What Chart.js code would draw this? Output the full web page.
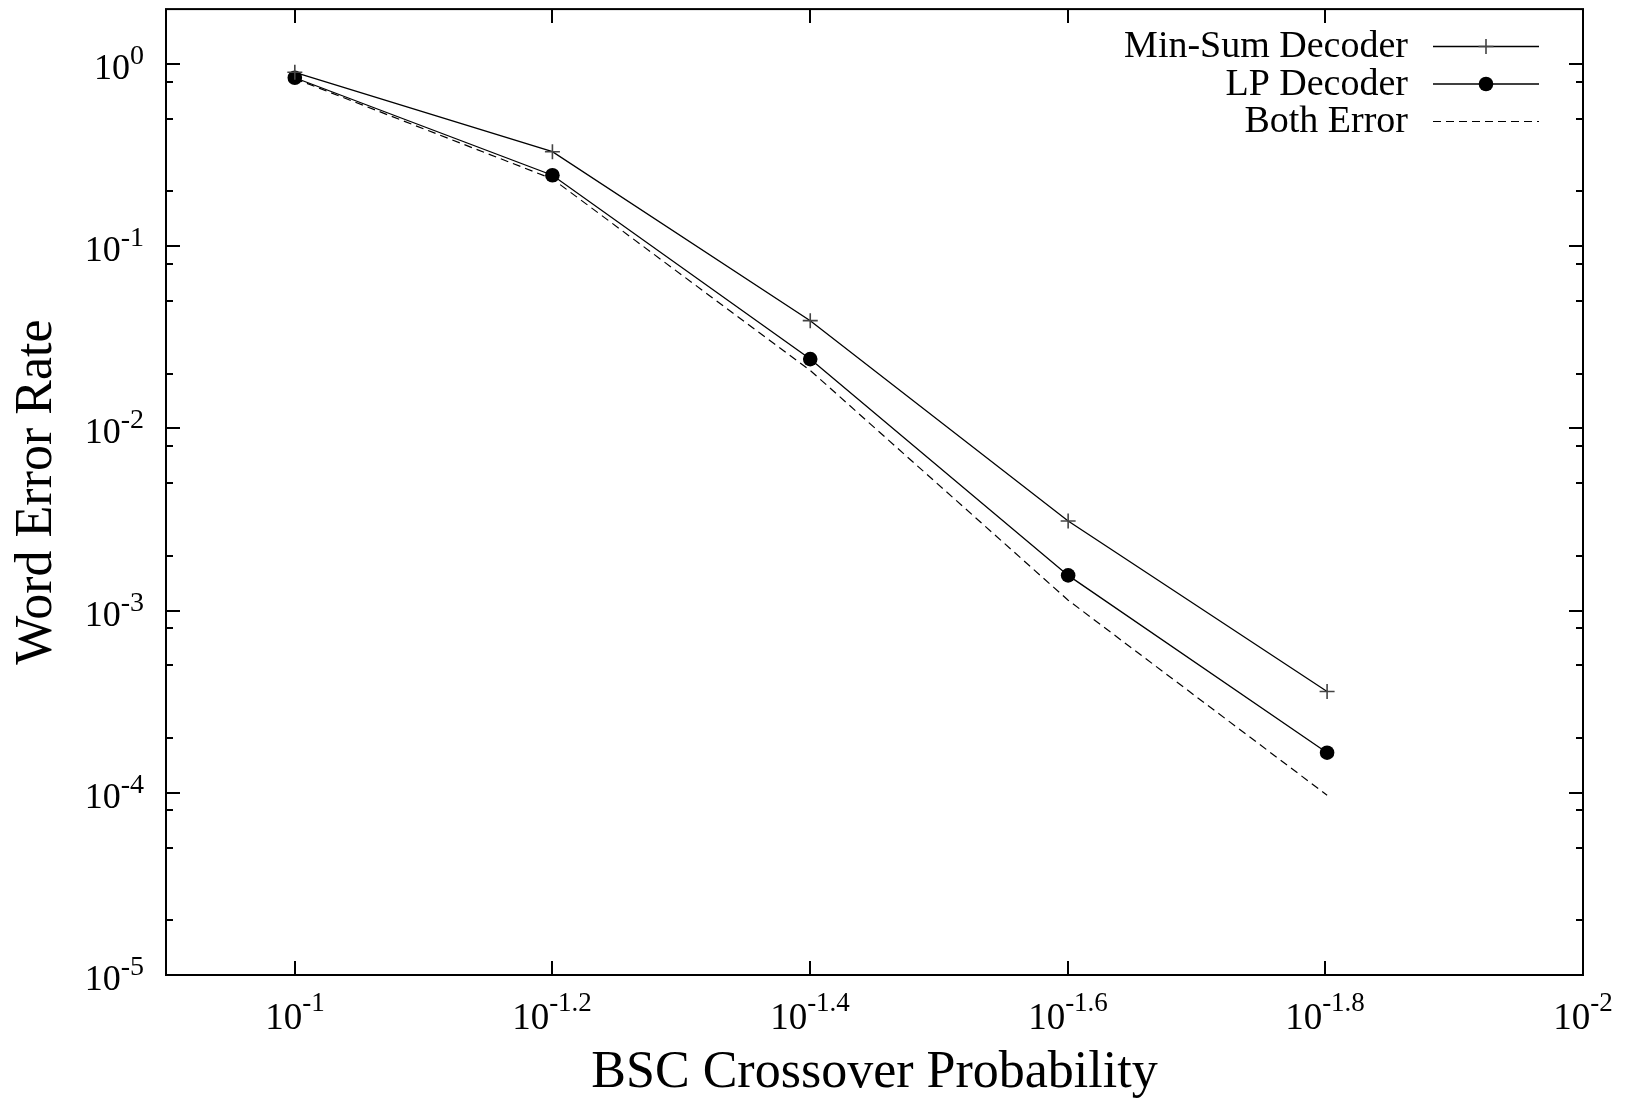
<!DOCTYPE html>
<html><head><meta charset="utf-8">
<script src="https://cdn.jsdelivr.net/npm/chart.js@4.4.1/dist/chart.umd.min.js"></script>
<style>html,body{margin:0;padding:0;background:#fff}canvas{display:block}</style>
</head><body>
<canvas id="c" width="1625" height="1099" style="width:1625px;height:1099px"></canvas>
<script>
// ---- data ----
const crossover = [0.1, 0.0631, 0.0398, 0.0251, 0.0158];        // 10^-1 ... 10^-1.8
const minSum    = [0.90, 0.33, 0.039, 0.0031, 0.00036];
const lpDecoder = [0.84, 0.245, 0.024, 0.00156, 0.000166];
const bothError = [0.83, 0.234, 0.0208, 0.00114, 0.000097];
const seriesLabels = ['Min-Sum Decoder', 'LP Decoder', 'Both Error'];
const xTickExponents = ['-1', '-1.2', '-1.4', '-1.6', '-1.8', '-2'];
const yTickExponents = ['0', '-1', '-2', '-3', '-4', '-5'];
const yMinorMantissas = [2, 5, 8];
const xTitle = 'BSC Crossover Probability';
const yTitle = 'Word Error Rate';

const FONT = "'Liberation Serif', 'Times New Roman', serif";
const pts = arr => crossover.map((x, i) => ({x: x, y: arr[i]}));

function drawPow(ctx, base, exp, x, baseline, align, mainSize, supSize, raise) {
  ctx.font = mainSize + 'px ' + FONT;
  const wb = ctx.measureText(base).width;
  ctx.font = supSize + 'px ' + FONT;
  const we = ctx.measureText(exp).width;
  const total = wb + we;
  let left = align === 'right' ? x - total : (align === 'center' ? x - total / 2 : x);
  ctx.textAlign = 'left';
  ctx.textBaseline = 'alphabetic';
  ctx.fillStyle = '#000';
  ctx.font = mainSize + 'px ' + FONT;
  ctx.fillText(base, left, baseline);
  ctx.font = supSize + 'px ' + FONT;
  ctx.fillText(exp, left + wb, baseline - raise);
}

const decor = {
  id: 'decor',
  afterDraw(chart) {
    const {ctx, chartArea: a, scales: {x, y}} = chart;
    ctx.save();
    ctx.strokeStyle = '#000';
    ctx.lineWidth = 2;
    const seg = (x1, y1, x2, y2) => { ctx.beginPath(); ctx.moveTo(x1, y1); ctx.lineTo(x2, y2); ctx.stroke(); };
    // y ticks (major + minor), both sides
    yTickExponents.forEach(e => {
      const v = Math.pow(10, parseFloat(e));
      const py = Math.round(y.getPixelForValue(v));
      seg(a.left, py, a.left + 14, py);
      seg(a.right, py, a.right - 14, py);
      yMinorMantissas.forEach(m => {
        const mv = m * v;
        if (mv < y.max) {
          const my = Math.round(y.getPixelForValue(mv));
          seg(a.left, my, a.left + 7, my);
          seg(a.right, my, a.right - 7, my);
        }
      });
      drawPow(ctx, '10', e, a.left - 22, py + 15, 'right', 36, 28, 15);
    });
    // x ticks, both sides
    xTickExponents.forEach(e => {
      const v = Math.pow(10, parseFloat(e));
      const px = Math.round(x.getPixelForValue(v));
      seg(px, a.bottom, px, a.bottom - 14);
      seg(px, a.top, px, a.top + 14);
      drawPow(ctx, '10', e, px, a.bottom + 54, 'center', 37, 27, 18);
    });
    // frame
    ctx.strokeRect(a.left, a.top, a.right - a.left, a.bottom - a.top);
    // legend
    const textRight = 1408, lineL = 1433, lineR = 1539, markX = 1486;
    const rows = [46.5, 84, 121.5];
    chart.data.datasets.forEach((ds, i) => {
      const ly = rows[i];
      ctx.fillStyle = '#000';
      ctx.font = '38px ' + FONT;
      ctx.textAlign = 'right';
      ctx.textBaseline = 'middle';
      ctx.fillText(ds.label, textRight, ly + 1);
      ctx.save();
      ctx.strokeStyle = ds.borderColor;
      ctx.lineWidth = ds.borderWidth;
      ctx.setLineDash(ds.borderDash || []);
      ctx.beginPath(); ctx.moveTo(lineL, ly); ctx.lineTo(lineR, ly); ctx.stroke();
      ctx.restore();
      if (ds.pointRadius > 0) {
        if (ds.pointStyle === 'cross') {
          ctx.save();
          ctx.strokeStyle = ds.pointBorderColor;
          ctx.lineWidth = ds.pointBorderWidth;
          const r = ds.pointRadius;
          ctx.beginPath();
          ctx.moveTo(markX - r, ly); ctx.lineTo(markX + r, ly);
          ctx.moveTo(markX, ly - r); ctx.lineTo(markX, ly + r);
          ctx.stroke();
          ctx.restore();
        } else {
          ctx.fillStyle = ds.pointBackgroundColor;
          ctx.beginPath(); ctx.arc(markX, ly, ds.pointRadius, 0, Math.PI * 2); ctx.fill();
        }
      }
    });
    ctx.restore();
  }
};

new Chart(document.getElementById('c'), {
  type: 'scatter',
  data: {
    datasets: [
      {label: seriesLabels[0], data: pts(minSum), showLine: true, borderColor: '#000', borderWidth: 1.3,
       pointStyle: 'cross', pointRadius: 7.5, pointBorderColor: '#444', pointBorderWidth: 1.6, pointBackgroundColor: '#444'},
      {label: seriesLabels[1], data: pts(lpDecoder), showLine: true, borderColor: '#000', borderWidth: 1.3,
       pointStyle: 'circle', pointRadius: 7.3, pointBackgroundColor: '#000', pointBorderColor: '#000', pointBorderWidth: 0},
      {label: seriesLabels[2], data: pts(bothError), showLine: true, borderColor: '#000', borderWidth: 1.2,
       borderDash: [8, 5], pointRadius: 0}
    ]
  },
  options: {
    responsive: false,
    animation: false,
    devicePixelRatio: 1,
    layout: {padding: {left: 0, right: 42, top: 8, bottom: 0}},
    plugins: {legend: {display: false}, tooltip: {enabled: false}},
    scales: {
      x: {
        type: 'logarithmic', reverse: true, min: 0.01, max: Math.pow(10, -0.9),
        grid: {display: false}, border: {display: false}, ticks: {display: false},
        afterBuildTicks: s => { s.ticks = xTickExponents.map(e => ({value: Math.pow(10, parseFloat(e))})); },
        afterFit: s => { s.height = 124; },
        title: {display: true, text: xTitle, color: '#000', font: {family: FONT, size: 52, lineHeight: 1}, padding: {top: 0, bottom: 0}}
      },
      y: {
        type: 'logarithmic', min: 1e-5, max: 2,
        grid: {display: false}, border: {display: false}, ticks: {display: false},
        afterBuildTicks: s => { s.ticks = yTickExponents.map(e => ({value: Math.pow(10, parseFloat(e))})); },
        afterFit: s => { s.width = 166; },
        title: {display: true, text: yTitle, color: '#000', font: {family: FONT, size: 52, lineHeight: 1}, padding: {top: 11, bottom: 0}}
      }
    }
  },
  plugins: [decor]
});
</script>
</body></html>
